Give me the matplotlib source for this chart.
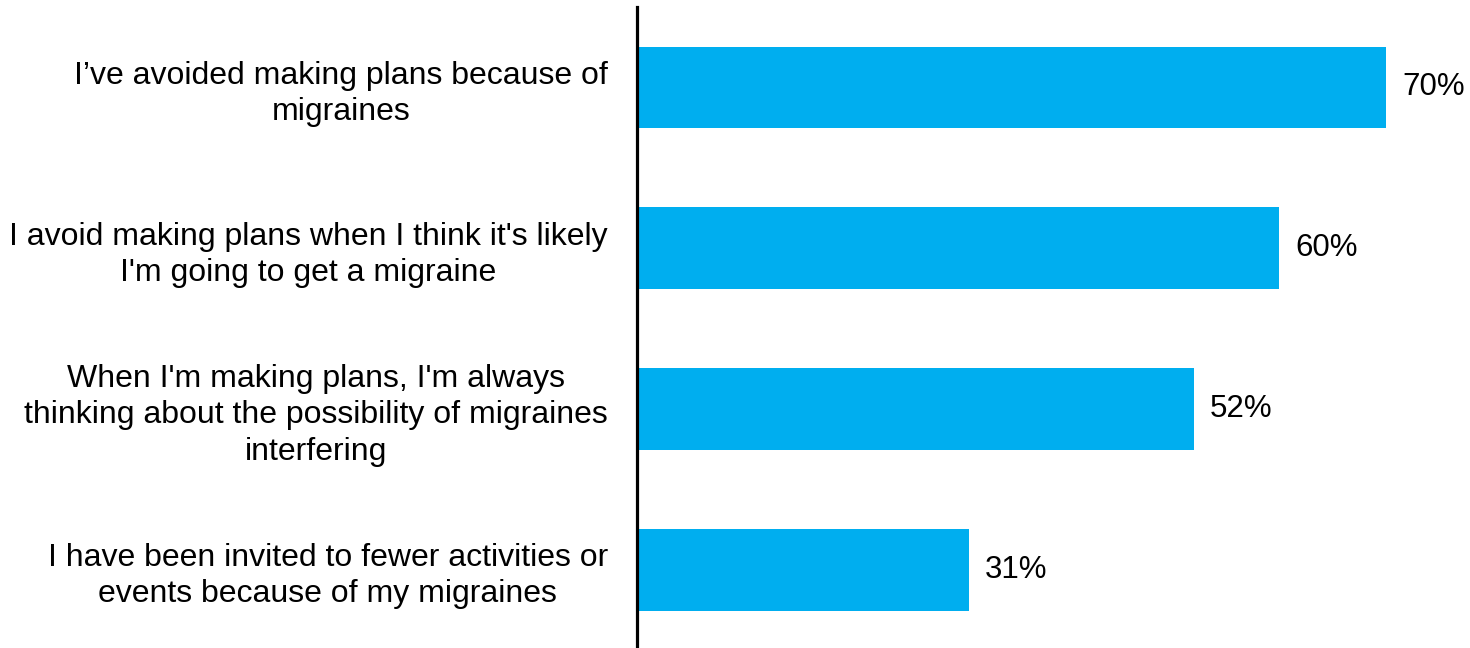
""" Horizontal bar chart: migraines and planning """

import matplotlib
import matplotlib.pyplot as plt

matplotlib.use('Agg')
plt.rcParams['font.family'] = ['Liberation Sans', 'DejaVu Sans']

LABELS = [
    "I\u2019ve avoided making plans because of\nmigraines",
    "I avoid making plans when I think it's likely\nI'm going to get a migraine",
    "When I'm making plans, I'm always\nthinking about the possibility of migraines\ninterfering",
    "I have been invited to fewer activities or\nevents because of my migraines",
]
VALUES = [70, 60, 52, 31]
BAR_COLOR = "#00AEEF"

fig = plt.figure(figsize=(14.7, 6.48), dpi=100)
ax = fig.add_axes([637 / 1470, -0.003, 1 - 637 / 1470, 0.992])

positions = list(range(len(VALUES)))
ax.barh(positions, VALUES, height=0.51, color=BAR_COLOR)
ax.set_ylim(3.5, -0.5)
ax.set_xlim(0, 77.8)

for pos, val in zip(positions, VALUES):
    ax.text(val + 1.5, pos, f"{val}%", va="center", ha="left", fontsize=22.5)

ax.set_yticks(positions)
ax.set_yticklabels(LABELS, fontsize=23, multialignment="center", linespacing=1.27)
ax.tick_params(axis="y", length=0, pad=21)
ax.set_xticks([])

for side in ["top", "right", "bottom"]:
    ax.spines[side].set_visible(False)
ax.spines["left"].set_linewidth(2.3)
ax.spines["left"].set_color("black")

fig.savefig("out.png", dpi=100)
